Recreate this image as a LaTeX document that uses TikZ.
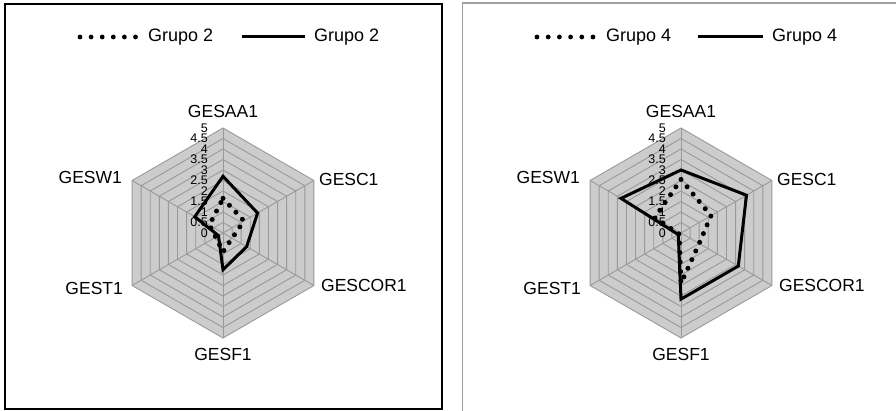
\documentclass[tikz,border=0pt]{standalone}
\usepackage{fontspec}
\setmainfont{Liberation Sans}
\begin{document}
\begin{tikzpicture}[x=1pt,y=-1pt,
  axislbl/.style={font=\fontsize{17.5}{18}\selectfont, inner sep=0pt},
  ticklbl/.style={font=\fontsize{12.5}{12.5}\selectfont, inner sep=0pt, anchor=east},
  leglbl/.style={font=\fontsize{18}{18}\selectfont, inner sep=0pt, anchor=west},
  gridline/.style={draw=gray!80, line width=0.9pt},
  hexfill/.style={fill=gray!40},
  solidser/.style={draw=black, line width=3pt, line join=miter},
  dotser/.style={draw=black, line width=5pt, line cap=round, dash pattern=on 0pt off 9.5pt},
  legdot/.style={fill=black},
  panelA/.style={draw=black, line width=1.5pt},
  panelB/.style={draw=gray!75, line width=1.5pt}]
\useasboundingbox (0,0) rectangle (896,411);

\newcommand\myradar[5]{% #1 prefix, #2 cx, #3 cy, #4 dotted values, #5 solid values
  \foreach \i in {0,...,5}{
    \coordinate (#1v\i) at ({#2+105*cos(90-60*\i)},{#3-105*sin(90-60*\i)});
  }
  \coordinate (#1c) at (#2,#3);
  \fill[hexfill] (#1v0) -- (#1v1) -- (#1v2) -- (#1v3) -- (#1v4) -- (#1v5) -- cycle;
  \foreach \k in {1,...,10}{
    \draw[gridline] ({#2},{#3-10.5*\k})
      \foreach \i in {1,...,5}{ -- ({#2+10.5*\k*cos(90-60*\i)},{#3-10.5*\k*sin(90-60*\i)}) } -- cycle;
  }
  \foreach \i in {0,...,5}{ \draw[gridline] (#1c) -- (#1v\i); }
  \foreach \t [count=\k from 0] in {0,0.5,1,1.5,2,2.5,3,3.5,4,4.5,5}{
    \node[ticklbl] (#1t\k) at ({#2-15},{#3-10.5*\k}) {\t};
  }
  \foreach \v [count=\i from 0] in {#4}{
    \coordinate (#1d\i) at ({#2+21*\v*cos(90-60*\i)},{#3-21*\v*sin(90-60*\i)});
  }
  \foreach \v [count=\i from 0] in {#5}{
    \coordinate (#1s\i) at ({#2+21*\v*cos(90-60*\i)},{#3-21*\v*sin(90-60*\i)});
  }
  \draw[dotser] (#1d0) -- (#1d1) -- (#1d2) -- (#1d3) -- (#1d4) -- (#1d5) -- cycle;
  \draw[solidser] (#1s0) -- (#1s1) -- (#1s2) -- (#1s3) -- (#1s4) -- (#1s5) -- cycle;
  \node[axislbl, anchor=south] (#1l0) at ([yshift=10pt]#1v0) {GESAA1};
  \node[axislbl, anchor=west] (#1l1) at ([xshift=5pt,yshift=1.5pt]#1v1) {GESC1};
  \node[axislbl, anchor=west] (#1l2) at ([xshift=7pt]#1v2) {GESCOR1};
  \node[axislbl, anchor=north] (#1l3) at ([yshift=-10pt]#1v3) {GESF1};
  \node[axislbl, anchor=east] (#1l4) at ([xshift=-9pt,yshift=-2.5pt]#1v4) {GEST1};
  \node[axislbl, anchor=east] (#1l5) at ([xshift=-10pt,yshift=3.5pt]#1v5) {GESW1};
}

% panels
\draw[panelA] (5,4) rectangle (442,409);
\draw[panelB] (462.5,412) -- (462.5,3) -- (897,3);

% legends
\foreach \k in {0,...,5}{ \fill[legdot] ({80+11.1*\k},37) circle (2.4); }
\node[leglbl] (lgA1) at (148,37) {Grupo 2};
\coordinate (lgA2s) at (242,37);
\coordinate (lgA2e) at (305,37);
\draw[solidser] (lgA2s) -- (lgA2e);
\node[leglbl] (lgA2) at (314,37) {Grupo 2};

\foreach \k in {0,...,5}{ \fill[legdot] ({537+11.2*\k},37) circle (2.4); }
\node[leglbl] (lgB1) at (606,37) {Grupo 4};
\coordinate (lgB2s) at (698,37);
\coordinate (lgB2e) at (763,37);
\draw[solidser] (lgB2s) -- (lgB2e);
\node[leglbl] (lgB2) at (772,37) {Grupo 4};

\myradar{A}{223}{233}{1.65,1.15,0.5,0.9,0.4,0.75}{2.7,1.9,1.3,1.75,0.25,1.55}
\myradar{B}{681}{233}{2.55,1.65,1.0,2.4,0.1,1.45}{3.0,3.6,3.15,3.15,0.15,3.3}
\end{tikzpicture}
\end{document}
